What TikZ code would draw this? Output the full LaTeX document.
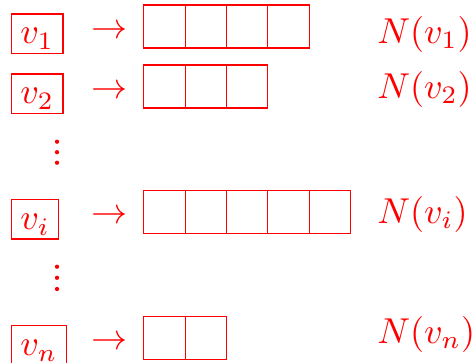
\RequirePackage{fix-cm}
\documentclass[tikz,border=0pt]{standalone}
\usepackage{graphicx}
\newcommand{\scm}[1]{\scalebox{2.7}{$#1$}}
\begin{document}
\begin{tikzpicture}[x=0.75pt,y=-0.75pt,
  every node/.style={text=red},
  vbox/.style={draw=red,line width=0.9pt,anchor=north west,inner xsep=6.8pt,inner ysep=0pt,text height=22.5pt,text depth=7pt},
  cell/.style={draw=red,line width=0.9pt,anchor=north west,inner sep=0pt,minimum width=31pt,minimum height=32.25pt},
  arr/.style={anchor=base,inner sep=0pt},
  nlab/.style={anchor=base west,inner sep=0pt},
  vdot/.style={circle,fill=red,inner sep=0pt,minimum size=3.2pt}]
\useasboundingbox (0,0) rectangle (472,362);
% vertex boxes
\node[vbox] (v1) at (10.7,13.3) {\scm{v_1}};
\node[vbox] (v2) at (10.7,73.3) {\scm{v_2}};
\node[vbox] (vi) at (10.7,199) {\scm{v_i}};
\node[vbox] (vn) at (10.7,325) {\scm{v_n}};
% arrows
\node[arr] (a1) at (109.5,38.4) {\scm{\to}};
\node[arr] (a2) at (109.5,98.4) {\scm{\to}};
\node[arr] (ai) at (109.5,223.4) {\scm{\to}};
\node[arr] (an) at (109.5,349.1) {\scm{\to}};
% cells
\foreach \k in {0,...,3}{\node[cell] (c1-\k) at ({143.2+41.35*\k},4.3) {};}
\foreach \k in {0,...,2}{\node[cell] (c2-\k) at ({143.2+41.35*\k},64.3) {};}
\foreach \k in {0,...,4}{\node[cell] (ci-\k) at ({143.2+41.35*\k},190) {};}
\foreach \k in {0,...,1}{\node[cell] (cn-\k) at ({143.2+41.35*\k},316) {};}
% labels
\node[nlab] (n1) at (377,43.3) {\scm{N(v_1)}};
\node[nlab] (n2) at (377,98.3) {\scm{N(v_2)}};
\node[nlab] (ni) at (377,223.3) {\scm{N(v_i)}};
\node[nlab] (nn) at (377,343.3) {\scm{N(v_n)}};
% vertical dots
\node[vdot] (d1) at (57,141.7) {};
\node[vdot] (d2) at (57,152.2) {};
\node[vdot] (d3) at (57,162.7) {};
\node[vdot] (e1) at (57,266.7) {};
\node[vdot] (e2) at (57,277.8) {};
\node[vdot] (e3) at (57,289) {};
\end{tikzpicture}
\end{document}
